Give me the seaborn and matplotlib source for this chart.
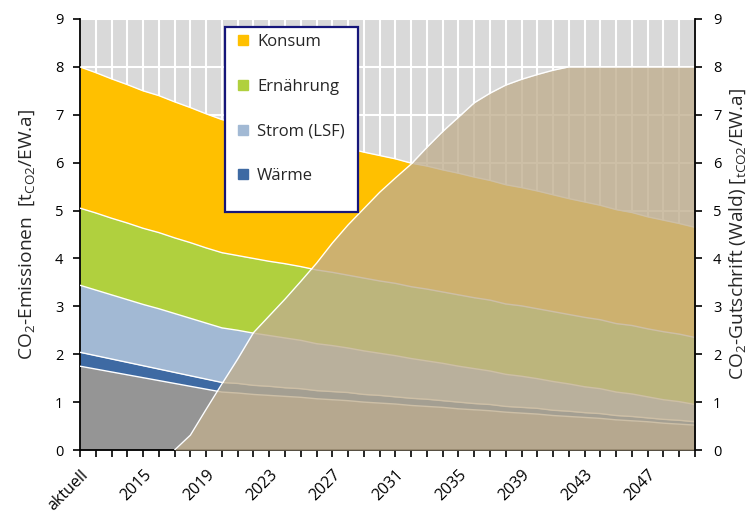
import matplotlib
matplotlib.use("Agg")
import matplotlib.pyplot as plt
import seaborn as sns
import numpy as np
from matplotlib.lines import Line2D
from matplotlib.patches import Rectangle

# Stil: seaborn zuerst, danach Schrift setzen
sns.set_style("ticks")
plt.rcParams['font.family'] = ['Open Sans', 'DejaVu Sans']
plt.rcParams['mathtext.fontset'] = 'custom'
plt.rcParams['mathtext.rm'] = 'Open Sans'
plt.rcParams['axes.unicode_minus'] = False

# ----------------------------
# Daten (t CO2 / EW.a), aktuell + 2012..2050
# ----------------------------
categories = ['aktuell'] + [str(y) for y in range(2012, 2051)]

sockel = [1.75, 1.69, 1.63, 1.57, 1.51, 1.45, 1.39, 1.33, 1.27, 1.21,
          1.19, 1.16, 1.14, 1.12, 1.10, 1.07, 1.05, 1.03, 1.00, 0.98,
          0.96, 0.93, 0.91, 0.89, 0.86, 0.84, 0.82, 0.79, 0.77, 0.75,
          0.72, 0.70, 0.68, 0.66, 0.63, 0.61, 0.59, 0.56, 0.54, 0.52]
waerme = [0.29, 0.28, 0.27, 0.26, 0.25, 0.24, 0.23, 0.22, 0.21, 0.20,
          0.20, 0.19, 0.19, 0.18, 0.18, 0.17, 0.17, 0.17, 0.16, 0.16,
          0.15, 0.15, 0.15, 0.14, 0.14, 0.13, 0.13, 0.12, 0.12, 0.12,
          0.11, 0.11, 0.10, 0.10, 0.09, 0.09, 0.08, 0.08, 0.08, 0.07]
strom = [1.40, 1.37, 1.34, 1.31, 1.28, 1.26, 1.23, 1.20, 1.17, 1.14,
         1.11, 1.09, 1.06, 1.04, 1.01, 0.98, 0.96, 0.93, 0.91, 0.88,
         0.86, 0.83, 0.80, 0.78, 0.75, 0.73, 0.70, 0.67, 0.65, 0.62,
         0.60, 0.57, 0.54, 0.52, 0.49, 0.47, 0.44, 0.41, 0.39, 0.36]
ernaehrung = [1.61, 1.61, 1.60, 1.60, 1.59, 1.59, 1.58, 1.58, 1.57, 1.57,
              1.56, 1.56, 1.55, 1.55, 1.54, 1.54, 1.53, 1.52, 1.52, 1.51,
              1.51, 1.50, 1.50, 1.49, 1.49, 1.48, 1.48, 1.47, 1.47, 1.46,
              1.46, 1.45, 1.45, 1.44, 1.43, 1.43, 1.42, 1.42, 1.41, 1.40]
konsum = [2.95, 2.93, 2.91, 2.89, 2.87, 2.86, 2.84, 2.82, 2.80, 2.78,
          2.76, 2.75, 2.73, 2.71, 2.70, 2.68, 2.66, 2.65, 2.63, 2.62,
          2.60, 2.58, 2.57, 2.55, 2.54, 2.52, 2.50, 2.49, 2.47, 2.46,
          2.44, 2.42, 2.41, 2.39, 2.38, 2.36, 2.34, 2.33, 2.31, 2.30]
wald = [0.00, 0.00, 0.00, 0.00, 0.00, 0.00, 0.00, 0.31, 0.85, 1.38,
        1.90, 2.45, 2.80, 3.15, 3.52, 3.90, 4.32, 4.70, 5.04, 5.38,
        5.68, 5.97, 6.32, 6.65, 6.95, 7.25, 7.45, 7.62, 7.74, 7.84,
        7.93, 8.00, 8.00, 8.00, 8.00, 8.00, 8.00, 8.00, 8.00, 8.00]

layer_names = ['Sockel', 'Wärme', 'Strom (LSF)', 'Ernährung', 'Konsum']
layer_colors = ['#959595', '#3E6AA3', '#A2B9D4', '#B0D03E', '#FFC000']

# ----------------------------
# Figur
# ----------------------------
fig = plt.figure(figsize=(7.48, 5.12), dpi=100)
ax = fig.add_axes([80 / 748, 62 / 512, 615 / 748, 431 / 512])

x = np.arange(len(categories))
layers = np.array([sockel, waerme, strom, ernaehrung, konsum])
tops = np.cumsum(layers, axis=0)
bottoms = np.vstack([np.zeros(len(x)), tops[:-1]])

ax.set_facecolor('#D9D9D9')
ax.set_axisbelow(True)
ax.grid(True, color='white', linewidth=1.5)

for low, up, col in zip(bottoms, tops, layer_colors):
    ax.fill_between(x, low, up, color=col, linewidth=0, zorder=2)
for up in tops:
    sns.lineplot(x=x, y=up, ax=ax, color='white', linewidth=1.0, zorder=3)

ax.set_xlim(0, len(x) - 1)
ax.set_ylim(0, 9)
ax.set_yticks(range(0, 10))
ax.set_xticks(x)
ax.set_xticklabels([c if i % 4 == 0 else '' for i, c in enumerate(categories)],
                   rotation=45, ha='right', rotation_mode='anchor', fontsize=11.5)
ax.tick_params(axis='both', direction='out', length=5, width=1.2,
               labelsize=10.5, colors='black')
ax.tick_params(axis='x', pad=7, labelsize=11.5)
ax.tick_params(axis='y', pad=7)
ax.set_ylabel(r'CO$_\mathregular{2}$-Emissionen  [t$_\mathregular{CO2}$/EW.a]',
              fontsize=13.8, labelpad=13)
ax.set_xlabel('')
for s in ['left', 'bottom']:
    ax.spines[s].set_color('black')
    ax.spines[s].set_linewidth(1.3)
ax.spines['top'].set_visible(False)
ax.spines['right'].set_visible(False)

# Zweite Achse: Wald-Gutschrift
ax2 = ax.twinx()
ax2.fill_between(x, 0, wald, color=(192 / 255, 174 / 255, 142 / 255),
                 alpha=0.79, linewidth=0, zorder=1)
start = next(i for i, v in enumerate(wald) if v > 0) - 1
sns.lineplot(x=x[start:], y=np.array(wald)[start:], ax=ax2, color='white',
             linewidth=1.0, zorder=2)
ax2.set_ylim(0, 9)
ax2.set_yticks(range(0, 10))
ax2.tick_params(axis='y', direction='out', length=5, width=1.2, pad=8,
                labelsize=10.5, colors='black')
ax2.set_ylabel(r'CO$_\mathregular{2}$-Gutschrift (Wald) [$_\mathregular{tCO2}$/EW.a]',
               fontsize=13.8, labelpad=4)
ax2.spines['right'].set_color('black')
ax2.spines['right'].set_linewidth(1.3)
for s in ['top', 'left', 'bottom']:
    ax2.spines[s].set_visible(False)

# Legende (Kasten wie im Original)
frame = Rectangle((225 / 748, 1 - 212 / 512), 133 / 748, 185 / 512,
                  transform=fig.transFigure, facecolor='white',
                  edgecolor='#16167A', linewidth=1.6, zorder=4, clip_on=False)
ax2.add_patch(frame)
handles = [Line2D([], [], marker='s', linestyle='none', markersize=6.5,
                  markerfacecolor=layer_colors[i], markeredgecolor=layer_colors[i],
                  label=layer_names[i]) for i in [4, 3, 2, 1]]
leg = ax2.legend(handles=handles, loc='upper left', frameon=False,
                 bbox_to_anchor=(237 / 748, 1 - 34 / 512),
                 bbox_transform=fig.transFigure, fontsize=12,
                 labelspacing=1.72, handlelength=0.7, handletextpad=0.5,
                 borderpad=0, borderaxespad=0)
leg.set_zorder(6)

fig.savefig('out.png', dpi=100)
